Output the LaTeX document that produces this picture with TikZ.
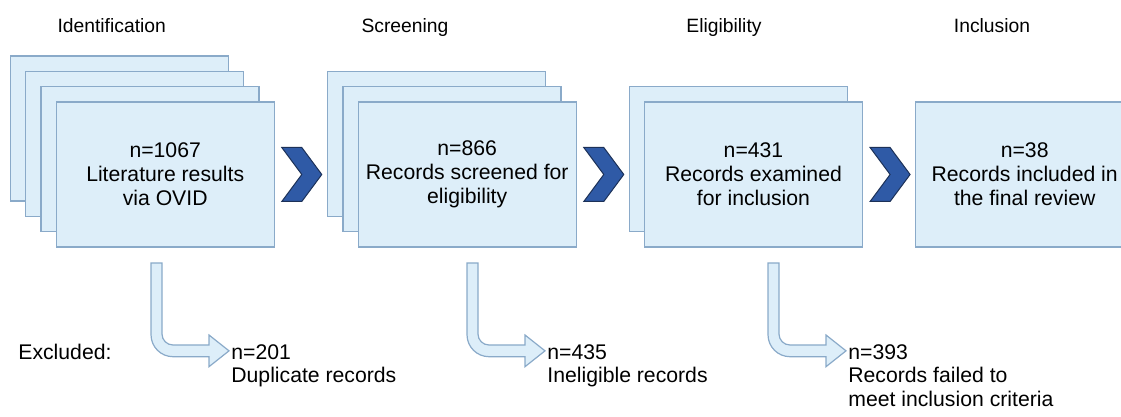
\documentclass[tikz,border=0pt]{standalone}
\usepackage{fontspec}
\setmainfont{Liberation Sans}
\usetikzlibrary{calc}
\definecolor{cardfill}{HTML}{DDEEF9}
\definecolor{cardline}{HTML}{8AAAC9}
\definecolor{chevfill}{HTML}{2F5AA6}
\definecolor{chevline}{HTML}{1C3158}
\tikzset{
 card/.style={draw=cardline, fill=cardfill, line width=0.6pt, minimum width=109pt,
  minimum height=72.5pt, inner sep=0pt, align=center, font=\fontsize{10.6}{12}\selectfont},
 head/.style={anchor=base, inner sep=0pt, font=\fontsize{9.65}{11.6}\selectfont},
 chevron/.style={draw=chevline, fill=chevfill, line width=0.5pt, line join=miter},
 exarrow/.style={draw=cardline, fill=cardfill, line width=0.6pt},
 outtext/.style={anchor=north west, align=left, inner sep=0pt, font=\fontsize{10.6}{11.8}\selectfont}
}
\begin{document}
\begin{tikzpicture}[x=0.5pt,y=-0.5pt]
 \clip (0,0) rectangle (1121,417);
 \foreach \name/\lbl/\cx in {hid/Identification/111.7, hsc/Screening/405, hel/Eligibility/724, hinc/Inclusion/992}
  \node[head] (\name) at (\cx,32.5) {\lbl};

 \foreach \b/\cx/\n in {id/165.2/3, sc/467.2/2, el/753.5/1} {
  \foreach \k in {\n,...,1}
   \node[card] (\b\k) at (\cx-15.3*\k,174.5-15.3*\k) {};
 }
 \node[card] (id) at (165.2,174.5) {n=1067\\Literature results\\via OVID};
 \node[card] (sc) at (467.2,174.5) {n=866\\Records screened for\\eligibility};
 \node[card] (el) at (753.5,174.5) {n=431\\Records examined\\for inclusion};
 \node[card] (inc) at (1024.7,174.5) {n=38\\Records included in\\the final review};

 \foreach \b in {id,sc,el}
  \draw[chevron] ($(\b.east)+(7,-27)$) -- ++(20,0) -- ++(20,27) -- ++(-20,27)
   -- ++(-20,0) -- ++(20,-27) -- cycle;

 \node[anchor=base west, inner sep=0pt, font=\fontsize{10.6}{12}\selectfont] (excl) at (18,359) {Excluded:};
 \foreach \b/\xl/\txt in {id/151/{n=201\\Duplicate records},
   sc/467/{n=435\\Ineligible records},
   el/768/{n=393\\Records failed to\\meet inclusion criteria}} {
  \coordinate (\b x) at (\xl,263);
  \draw[exarrow] (\b x) -- ++(0,71.7) arc(180:90:22) -- ++(36,0) -- ++(0,10)
   -- ++(20,-15.85) coordinate (\b tip) -- ++(-20,-15.85) -- ++(0,10) -- ++(-36,0)
   arc(90:180:11) -- ++(0,-71) -- cycle;
  \node[outtext] (\b out) at ($(\b tip)+(2,-7)$) {\txt};
 }
\end{tikzpicture}
\end{document}
